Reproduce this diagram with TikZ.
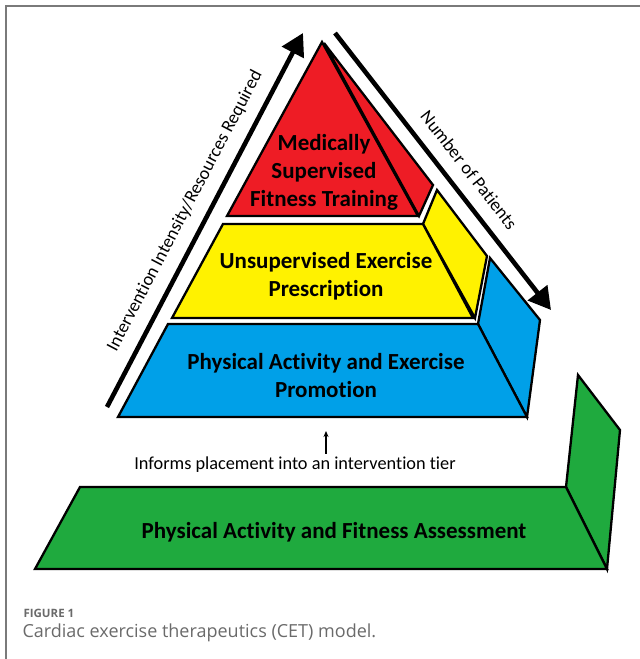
\documentclass[tikz,border=0pt]{standalone}
\usepackage{fontspec}
\setmainfont{Carlito}[Ligatures=NoCommon]
\newfontfamily\capfont{Open Sans}
\usetikzlibrary{arrows.meta}
\definecolor{tierred}{HTML}{EE1C25}
\definecolor{tieryellow}{HTML}{FFF200}
\definecolor{tierblue}{HTML}{00A0E8}
\definecolor{tiergreen}{HTML}{1FAA3E}
\definecolor{framegray}{HTML}{7A7A7A}
\definecolor{capgray}{HTML}{6A6A6A}
\begin{document}
\begin{tikzpicture}[x=1pt,y=-1pt,
  tier/.style={draw=black,line width=2.3pt,line join=miter},
  bigarrow/.style={line width=4.6pt,-{Triangle[length=22pt,width=24pt]}},
  tiertext/.style={font=\fontsize{23}{28}\selectfont\bfseries,align=center,text=black},
  axistext/.style={font=\fontsize{18.3}{21}\selectfont,text=black},
]
\useasboundingbox (0,0) rectangle (640,659);
% figure frame
\draw[framegray,line width=1.6pt] (6,659) -- (6,6) -- (640,6);

% assessment platform
\filldraw[tier,fill=tiergreen] (566,487) -- (578,375) -- (620,430) -- (607,569) -- cycle;
\filldraw[tier,fill=tiergreen] (80,487) -- (566,487) -- (607,569) -- (35,569) -- cycle;

% bottom tier
\filldraw[tier,fill=tierblue] (478,324) -- (490,258) -- (540,320) -- (527,417) -- cycle;
\filldraw[tier,fill=tierblue] (168,324) -- (478,324) -- (527,417) -- (118,417) -- cycle;

% middle tier
\filldraw[tier,fill=tieryellow] (423,224) -- (437,190) -- (487,256) -- (475,318) -- cycle;
\filldraw[tier,fill=tieryellow] (223,224) -- (423,224) -- (473,318) -- (172,318) -- cycle;

% top tier
\filldraw[tier,fill=tierred] (324,43) -- (433,185) -- (419,216) -- cycle;
\filldraw[tier,fill=tierred] (322,42) -- (418,216) -- (227,216) -- cycle;

% tier labels
\node[tiertext] (top) at (324,172) {Medically\\Supervised\\Fitness Training};
\node[tiertext] (mid) at (326,276) {Unsupervised Exercise\\Prescription};
\node[tiertext] (base) at (326,376) {Physical Activity and Exercise\\Promotion};
\node[tiertext] (assess) at (334,532) {Physical Activity and Fitness Assessment};

% side axes
\coordinate (intStart) at (107,407);
\coordinate (intEnd) at (303,33);
\draw[bigarrow] (intStart) -- (intEnd);
\node[axistext,rotate=62.3] (intensity) at (185,211) {Intervention Intensity/Resources Required};

\coordinate (patStart) at (335,33);
\coordinate (patEnd) at (551,310);
\draw[bigarrow] (patStart) -- (patEnd);
\node[axistext,rotate=-52] (patients) at (469,170) {Number of Patients};

% placement note
\node[axistext] (informs) at (295,465) {Informs placement into an intervention tier};
\coordinate (noteTip) at (326,431);
\draw[line width=1.2pt,-{Stealth[length=6pt,width=5pt]}] (informs.north -| noteTip) -- (noteTip);

% caption
\node[anchor=base west,font=\capfont\fontsize{11.5}{13}\selectfont\bfseries,text=capgray] (figlabel) at (20,617) {FIGURE 1};
\node[anchor=base west,font=\capfont\fontsize{18}{20}\selectfont,text=capgray] (caption) at (19,637) {Cardiac exercise therapeutics (CET) model.};
\end{tikzpicture}
\end{document}
